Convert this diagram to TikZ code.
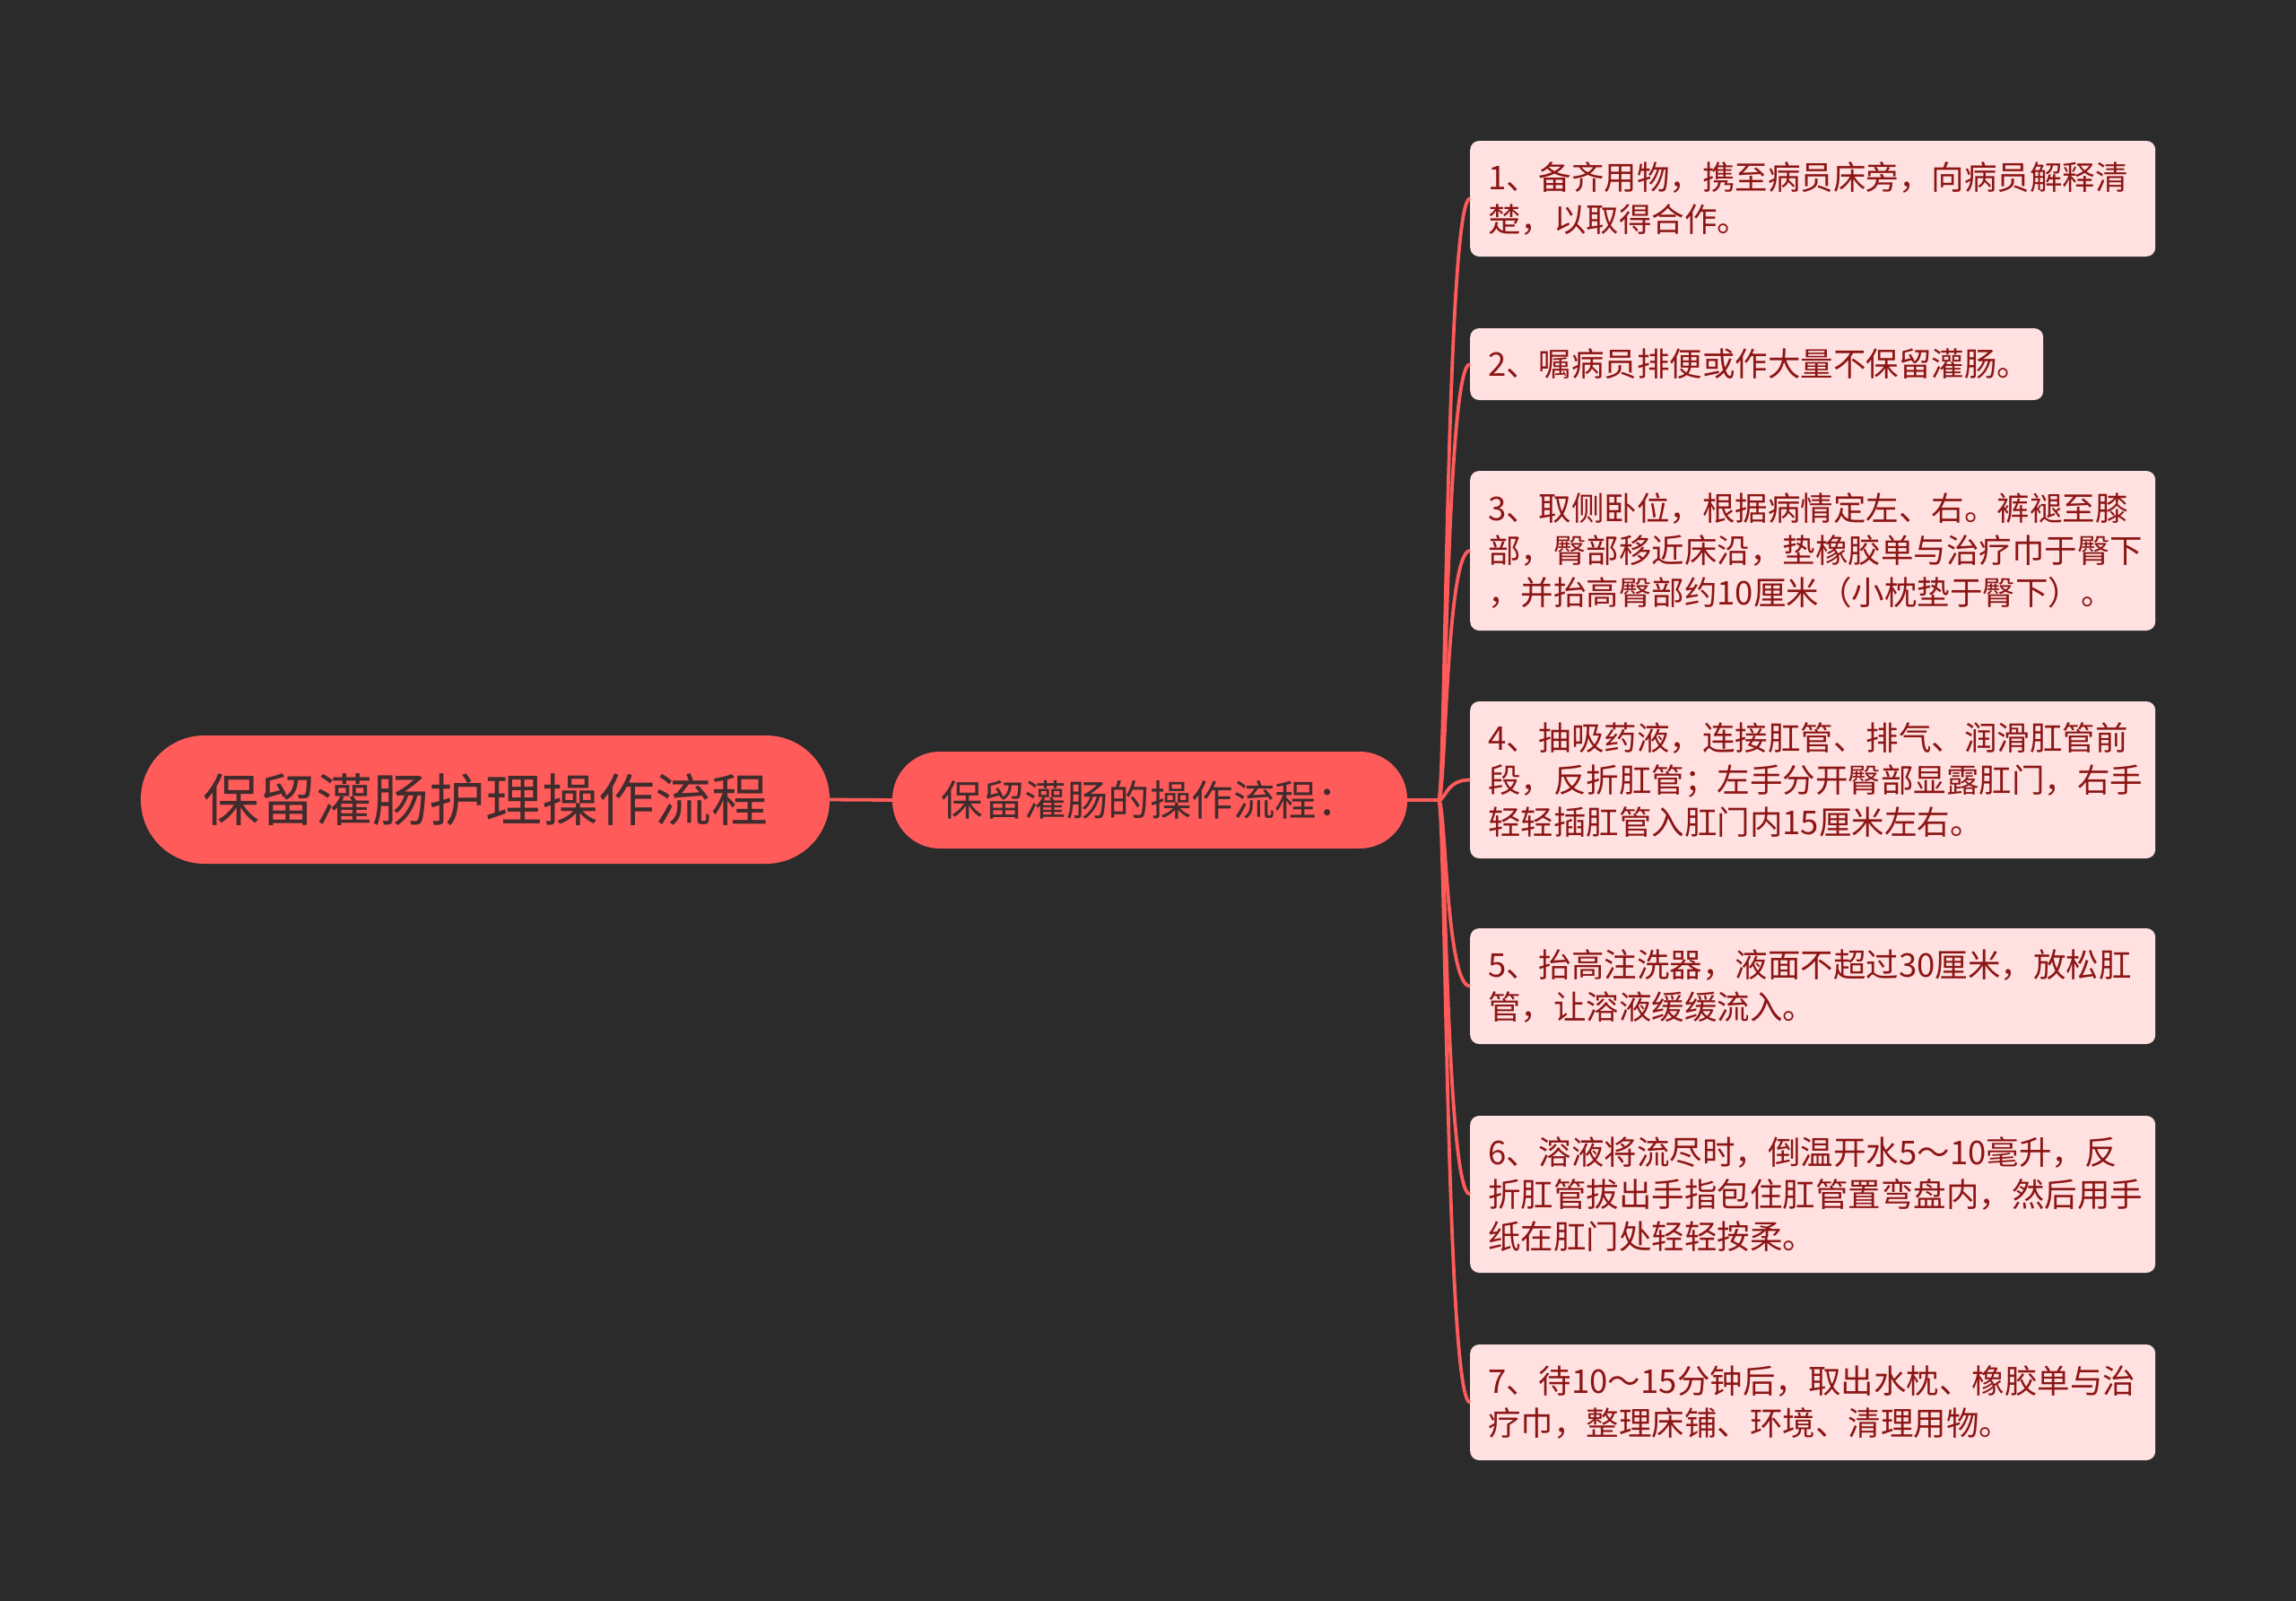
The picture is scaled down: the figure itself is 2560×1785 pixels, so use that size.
\documentclass[tikz,border=0pt]{standalone}
\usepackage{fontspec}
\newfontfamily\cjk{Noto Sans CJK SC}
\definecolor{bg}{HTML}{2B2B2B}
\definecolor{coral}{HTML}{FF5B5B}
\definecolor{roottext}{HTML}{402C2C}
\definecolor{boxfill}{HTML}{FFE1E1}
\definecolor{boxtext}{HTML}{8C1515}
\begin{document}
\begin{tikzpicture}[x=1pt,y=-1pt,
  rootbox/.style={fill=coral, rounded corners=71pt, minimum width=768pt, minimum height=143pt, inner sep=0pt, text=roottext, font=\cjk\fontsize{63pt}{70pt}\selectfont},
  subbox/.style={fill=coral, rounded corners=53pt, minimum width=574pt, minimum height=108pt, inner sep=0pt, text=roottext, font=\cjk\fontsize{46.5pt}{52pt}\selectfont},
  stepbox/.style={fill=boxfill, rounded corners=10pt, anchor=west, minimum width=764pt, text width=732pt, inner xsep=16pt, inner ysep=0pt, align=left, text=boxtext, font=\cjk\fontsize{36.5pt}{47pt}\selectfont},
  link/.style={draw=coral, line width=3.8pt}
]
\useasboundingbox (0,0) rectangle (2560,1785);
\fill[bg] (0,0) rectangle (2560,1785);

\node[rootbox] (root) at (541,891.5) {保留灌肠护理操作流程};
\node[subbox] (sub) at (1282,892) {保留灌肠的操作流程：};

\node[stepbox, minimum height=129pt] (s1) at (1639,221.5) {\hspace*{4pt}1、备齐用物，携至病员床旁，向病员解释清\\\hspace*{4pt}楚，以取得合作。};
\node[stepbox, minimum height=80pt, minimum width=639pt, text width=607pt] (s2) at (1639,406) {\hspace*{4pt}2、嘱病员排便或作大量不保留灌肠。};
\node[stepbox, minimum height=178pt] (s3) at (1639,614) {\hspace*{4pt}3、取侧卧位，根据病情定左、右。裤褪至膝\\\hspace*{4pt}部，臀部移近床沿，垫橡胶单与治疗巾于臀下\\\hspace*{4pt}，并抬高臀部约10厘米（小枕垫于臀下）。};
\node[stepbox, minimum height=175pt] (s4) at (1639,869.5) {\hspace*{4pt}4、抽吸药液，连接肛管、排气、润滑肛管前\\\hspace*{4pt}段，反折肛管；左手分开臀部显露肛门，右手\\\hspace*{4pt}轻轻插肛管入肛门内15厘米左右。};
\node[stepbox, minimum height=129pt] (s5) at (1639,1099.5) {\hspace*{4pt}5、抬高注洗器，液面不超过30厘米，放松肛\\\hspace*{4pt}管，让溶液缓缓流入。};
\node[stepbox, minimum height=175pt] (s6) at (1639,1331.5) {\hspace*{4pt}6、溶液将流尽时，倒温开水5～10毫升，反\\\hspace*{4pt}折肛管拔出手指包住肛管置弯盘内，然后用手\\\hspace*{4pt}纸在肛门处轻轻按柔。};
\node[stepbox, minimum height=129pt] (s7) at (1639,1563.5) {\hspace*{4pt}7、待10～15分钟后，取出水枕、橡胶单与治\\\hspace*{4pt}疗巾，整理床铺、环境、清理用物。};

\coordinate (hub) at (1604,892);
\draw[link] (root.east) -- (sub.west);
\draw[link] (sub.east) -- (hub);
\foreach \n in {s1,s2,s3,s4,s5,s6,s7}
  \draw[link] (hub) .. controls +(8,0) and +(-27,0) .. (\n.west);
\end{tikzpicture}
\end{document}
